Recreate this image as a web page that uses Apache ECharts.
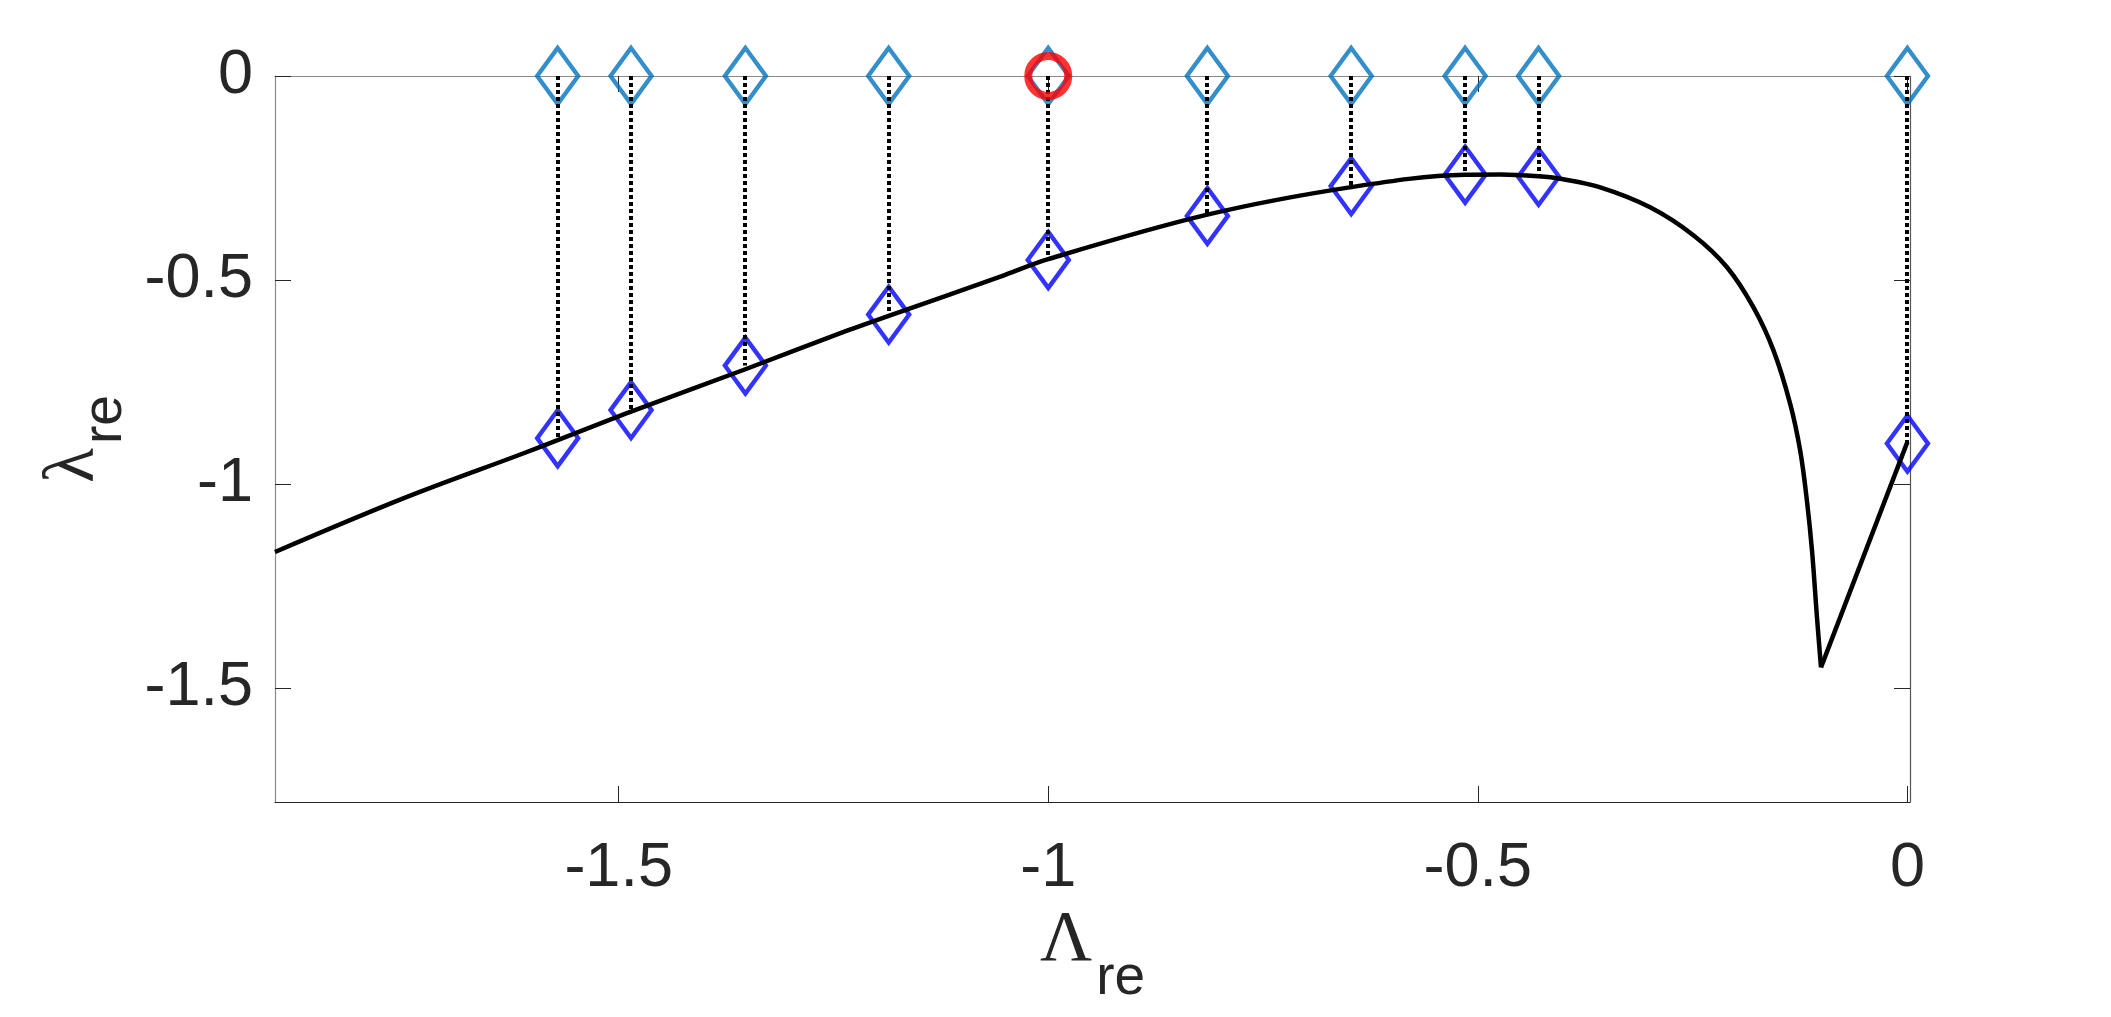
<!DOCTYPE html>
<html>
<head>
<meta charset="utf-8">
<script src="https://cdn.jsdelivr.net/npm/echarts@6/dist/echarts.min.js"></script>
<style>
html,body{margin:0;padding:0;background:#fff;}
#chart{width:2111px;height:1017px;}
</style>
</head>
<body>
<div id="chart"></div>
<script>
// ---- data ----
const eigX   = [-1.571, -1.4856, -1.3525, -1.1857, -1.0, -0.8148, -0.6474, -0.5148, -0.4293, 0];
const eigTop = [0, 0, 0, 0, 0, 0, 0, 0, 0, 0];
const eigLow = [-0.888, -0.819, -0.710, -0.585, -0.451, -0.343, -0.270, -0.242, -0.247, -0.901];
const redX = [-1.0];
const redY = [0];
// curve (smooth part up to the cusp)
const curveX = [-1.9, -1.75, -1.6144, -1.571, -1.4856, -1.3525, -1.2342, -1.1857, -1.0557, -1.0, -0.8148, -0.6474,
                -0.5148, -0.4738, -0.4293, -0.404, -0.3584, -0.2995, -0.2488, -0.21, -0.179, -0.1557, -0.1363,
                -0.1247, -0.1169, -0.111, -0.1052, -0.1006];
const curveY = [-1.167, -1.035, -0.928, -0.893, -0.823, -0.719, -0.6245, -0.588, -0.492, -0.449, -0.340, -0.2725,
                -0.2423, -0.2417, -0.246, -0.252, -0.2725, -0.322, -0.391, -0.469, -0.568, -0.674, -0.805,
                -0.920, -1.0425, -1.165, -1.329, -1.450];
// straight tail from the cusp to x = 0
const tailX = [-0.1006, 0];
const tailY = [-1.450, -0.897];
const xTicks = [-1.5, -1, -0.5, 0];
const yTicks = [-1.5, -1, -0.5, 0];
const xRange = [-1.9, 0.003];
const yRange = [-1.78, 0];

const zip = (a, b) => a.map((v, i) => [v, b[i]]);

const chart = echarts.init(document.getElementById('chart'), null, {renderer: 'canvas'});
const dark = '#262626';
const labelFont = 'Liberation Sans';

const option = {
  animation: false,
  backgroundColor: '#ffffff',
  grid: {left: 275, right: 201, top: 76, bottom: 215, show: false},
  xAxis: [{
    type: 'value', min: xRange[0], max: xRange[1], position: 'bottom',
    axisLine: {show: true, onZero: false, lineStyle: {color: dark, width: 1.2}},
    axisTick: {show: true, inside: true, length: 16, customValues: xTicks, lineStyle: {color: dark, width: 1}},
    axisLabel: {show: true, customValues: xTicks, fontSize: 63, color: dark, fontFamily: labelFont, margin: 35},
    splitLine: {show: false},
    name: '{g|Λ}{s|re}', nameLocation: 'middle', nameGap: 95,
    nameTextStyle: {
      rich: {
        g: {fontFamily: 'Liberation Serif', fontSize: 72, color: dark, lineHeight: 72, verticalAlign: 'top'},
        s: {fontFamily: labelFont, fontSize: 55, color: dark, padding: [46, 0, 0, 4], verticalAlign: 'bottom'}
      }
    }
  }, {
    type: 'value', min: xRange[0], max: xRange[1], position: 'top',
    axisLine: {show: true, onZero: false, lineStyle: {color: '#8a8a8a', width: 1.2}},
    axisTick: {show: true, inside: true, length: 16, customValues: xTicks, lineStyle: {color: dark, width: 1}},
    axisLabel: {show: false}, splitLine: {show: false}
  }],
  yAxis: [{
    type: 'value', min: yRange[0], max: yRange[1], position: 'left',
    axisLine: {show: true, onZero: false, lineStyle: {color: '#8a8a8a', width: 1.2}},
    axisTick: {show: true, inside: true, length: 16, customValues: yTicks, lineStyle: {color: dark, width: 1}},
    axisLabel: {show: true, customValues: yTicks, fontSize: 63, color: dark, fontFamily: labelFont, margin: 22},
    splitLine: {show: false},
    name: '{g|λ}{s|re}', nameLocation: 'middle', nameGap: 111,
    nameTextStyle: {
      rich: {
        g: {fontFamily: 'Liberation Serif', fontSize: 72, color: dark, lineHeight: 72, verticalAlign: 'top'},
        s: {fontFamily: labelFont, fontSize: 55, color: dark, padding: [40, 0, 0, 4], verticalAlign: 'bottom'}
      }
    }
  }, {
    type: 'value', min: yRange[0], max: yRange[1], position: 'right',
    axisLine: {show: true, onZero: false, lineStyle: {color: '#555555', width: 1.2}},
    axisTick: {show: true, inside: true, length: 16, customValues: yTicks, lineStyle: {color: dark, width: 1}},
    axisLabel: {show: false}, splitLine: {show: false}
  }],
  series: [
    {
      type: 'scatter', name: 'top', data: zip(eigX, eigTop), symbol: 'diamond', symbolSize: [41, 56],
      clip: false, z: 3,
      itemStyle: {color: 'rgba(0,0,0,0)', borderColor: '#0072BD', borderWidth: 4.5}
    },
    {
      type: 'scatter', name: 'low', data: zip(eigX, eigLow), symbol: 'diamond', symbolSize: [41, 56],
      clip: false, z: 3,
      itemStyle: {color: 'rgba(0,0,0,0)', borderColor: '#0000FF', borderWidth: 4.5}
    },
    {
      type: 'custom', name: 'stems', z: 4, clip: false,
      data: eigX.map((x, i) => [x, eigTop[i], eigLow[i]]),
      renderItem: function (params, api) {
        const p0 = api.coord([api.value(0), api.value(1)]);
        const p1 = api.coord([api.value(0), api.value(2)]);
        return {
          type: 'line',
          shape: {x1: Math.round(p0[0]), y1: p0[1], x2: Math.round(p1[0]), y2: p1[1]},
          style: {stroke: '#000', lineWidth: 4, lineDash: [4, 3]}
        };
      }
    },
    {
      type: 'line', name: 'curve', data: zip(curveX, curveY), showSymbol: false, symbol: 'none',
      smooth: 0.35, z: 5,
      lineStyle: {color: '#000', width: 4.5, join: 'round'}
    },
    {
      type: 'line', name: 'tail', data: zip(tailX, tailY), showSymbol: false, symbol: 'none', z: 5,
      lineStyle: {color: '#000', width: 4.5, join: 'round'}
    },
    {
      type: 'scatter', name: 'red', data: zip(redX, redY), symbol: 'circle', symbolSize: 40,
      clip: false, z: 6,
      itemStyle: {color: 'rgba(0,0,0,0)', borderColor: '#FF0000', borderWidth: 8}
    }
  ]
};
chart.setOption(option);
</script>
</body>
</html>
